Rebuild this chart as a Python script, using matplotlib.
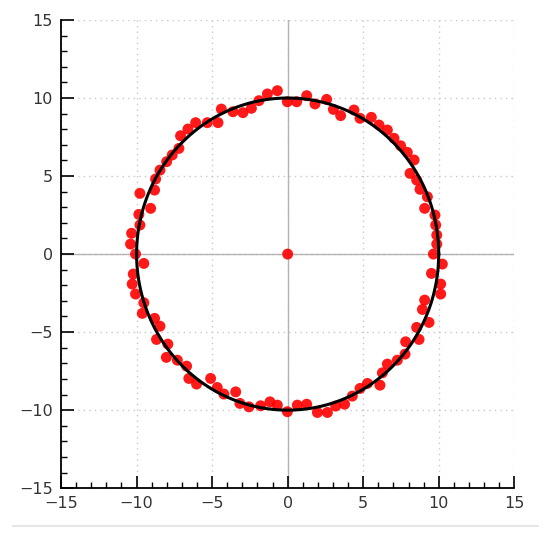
import numpy as np
import matplotlib.pyplot as plt
from matplotlib.lines import Line2D
from matplotlib.ticker import MultipleLocator

# noisy samples around the circle
pts_x = [-0.68, -1.34, -1.9, -2.4, -2.96, -3.62, -4.39, -4.61, -5.32, -6.09,
         -6.6, -7.09, -7.2, -7.64, -8.01, -8.45, -8.74, -8.81, -9.78, -9.07,
         -9.85, -9.78, -10.33, -10.4, -10.07, -9.52,
         -0.02, 0.6, 1.26, 1.81, 2.58, 3.03, 3.51, 4.39, 4.79, 5.54,
         6.05, 6.6, 7.04, 7.48, 7.92, 8.37, 8.1, 8.54, 8.76, 9.25,
         9.07, 9.75, 9.8, 9.87, 9.87, 9.65, 10.24, 9.52,
         -10.22, -10.29, -10.07, -9.52, -9.62, -8.81, -8.45, -8.68, -7.93, -8.03,
         -7.3, -6.69, -6.54, -6.03, -5.1, -4.66, -4.22, -3.44, -3.16, -2.56,
         -1.79, -1.17, -0.68,
         10.13, 10.13, 9.07, 8.92, 9.36, 8.54, 8.7, 7.81, 7.77, 7.26,
         6.6, 6.27, 6.11, 5.28, 4.79, 4.28, 3.77, 3.18, 2.63, 1.97,
         1.26, 0.64, -0.02, 0.0]
pts_y = [10.47, 10.26, 9.83, 9.34, 9.06, 9.12, 9.29, 8.42, 8.42, 8.42,
         8.01, 7.58, 6.77, 6.35, 5.92, 5.38, 4.81, 4.1, 3.89, 2.93,
         2.54, 1.86, 1.33, 0.64, 0.0, -0.6,
         9.76, 9.76, 10.15, 9.62, 9.91, 9.27, 8.87, 9.23, 8.7, 8.76,
         8.27, 7.95, 7.42, 6.94, 6.52, 6.03, 5.17, 4.74, 4.15, 3.67,
         2.93, 2.5, 1.86, 1.22, 0.64, 0.0, -0.64, -1.24,
         -1.28, -1.92, -2.56, -3.12, -3.8, -4.12, -4.62, -5.47, -5.77, -6.62,
         -6.8, -7.18, -7.97, -8.33, -7.97, -8.55, -8.97, -8.83, -9.57, -9.79,
         -9.72, -9.47, -9.68,
         -1.92, -2.56, -2.95, -3.55, -4.38, -4.7, -5.47, -5.62, -6.41, -6.8,
         -7.05, -7.61, -8.4, -8.29, -8.61, -9.1, -9.62, -9.74, -10.15, -10.15,
         -9.62, -9.68, -10.1, 0.0]

radius = 10
ticks = [-15, -10, -5, 0, 5, 10, 15]

fig = plt.figure(figsize=(5.5, 5.4), dpi=100)
ax = fig.add_axes([0.111, 0.096, 0.824, 0.867])

ax.set_xlim(-15, 15)
ax.set_ylim(-15, 15)

for t in ticks:
    ax.axvline(t, color="#c8c8c8", lw=1, ls=(0, (1, 3)), zorder=0)
    ax.axhline(t, color="#c8c8c8", lw=1, ls=(0, (1, 3)), zorder=0)
ax.axvline(0, color="#b4b4b4", lw=1, zorder=1)
ax.axhline(0, color="#b4b4b4", lw=1, zorder=1)

ax.scatter(pts_x, pts_y, s=62, color="red", alpha=0.9, edgecolors="none", zorder=2)

th = np.linspace(0, 2 * np.pi, 400)
ax.plot(radius * np.cos(th), radius * np.sin(th), color="black", lw=2.2, zorder=3)

ax.spines["top"].set_visible(False)
ax.spines["right"].set_visible(False)
ax.spines["left"].set_linewidth(1.3)
ax.spines["bottom"].set_linewidth(1.3)

ax.set_xticks(ticks)
ax.set_yticks(ticks)
ax.xaxis.set_minor_locator(MultipleLocator(1))
ax.yaxis.set_minor_locator(MultipleLocator(1))
ax.tick_params(which="major", direction="in", length=9, width=1.2,
               labelsize=11.5, labelcolor="#333333", pad=6)
ax.tick_params(which="minor", direction="in", length=4.5, width=1)

fig.add_artist(Line2D([0.024, 0.978], [0.026, 0.026], color="#e6e6e6", lw=1.5))

fig.savefig("out.png", dpi=100)
